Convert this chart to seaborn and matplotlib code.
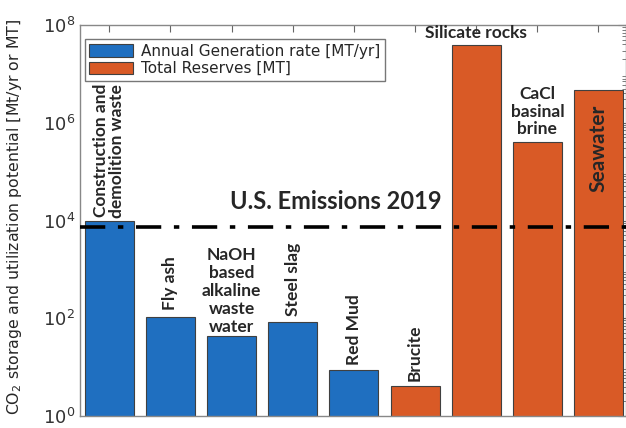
import numpy as np
import pandas as pd
import seaborn as sns
import matplotlib.pyplot as plt

# data
sources = ['Construction and demolition waste', 'Fly ash', 'NaOH based alkaline waste water',
           'Steel slag', 'Red Mud', 'Brucite', 'Silicate rocks', 'CaCl basinal brine', 'Seawater']
potential = [1.0e4, 105, 43, 85, 8.7, 4.1, 3.9e7, 4.1e5, 4.6e6]
kind = ['Annual Generation rate [MT/yr]'] * 5 + ['Total Reserves [MT]'] * 4
us_emissions_2019 = 7200

df = pd.DataFrame({'source': sources, 'value': potential, 'kind': kind})

sns.set_style('white')
plt.rcParams['font.family'] = ['DejaVu Sans']

fig = plt.figure(figsize=(6.26, 4.28), dpi=100)
ax = fig.add_axes([80 / 626, 1 - 416 / 428, 546 / 626, 391 / 428])

pal = {'Annual Generation rate [MT/yr]': '#1f6fc0', 'Total Reserves [MT]': '#d95a26'}
sns.barplot(data=df, x='source', y='value', hue='kind', dodge=False, palette=pal,
            hue_order=list(pal.keys()), width=0.8, edgecolor='#404040', linewidth=0.8,
            saturation=1, ax=ax)
ax.set_yscale('log')
ax.set_ylim(1, 1e8)
ax.set_xlim(-0.48, 8.45)
ax.set_yticks([1, 1e2, 1e4, 1e6, 1e8])
ax.set_yticklabels(['$10^0$', '$10^2$', '$10^4$', '$10^6$', '$10^8$'], fontsize=13, color='#333333')
ax.set_xticks(range(9))
ax.set_xticklabels([])
ax.set_xlabel('')
ax.set_ylabel('CO$_2$ storage and utilization potential [Mt/yr or MT]', fontsize=11.3)
ax.yaxis.set_label_coords(-0.103, 0.51)
ax.tick_params(axis='both', which='both', direction='in', top=True, right=True, color='#666666')
ax.tick_params(axis='y', which='major', length=6)
ax.tick_params(axis='y', which='minor', length=3)
ax.tick_params(axis='x', length=5)
for s in ax.spines.values():
    s.set_color('#888888')
    s.set_linewidth(1)

# US emissions line
ax.axhline(us_emissions_2019, color='black', linestyle=(0, (7, 3.5, 1.5, 3.5)), linewidth=2.6, zorder=5)
ax.text(3.7, 1.45e4, 'U.S. Emissions 2019', fontsize=17, fontweight='bold', family='Lato',
        ha='center', va='bottom')

# bar labels
lab = dict(fontsize=12.5, fontweight='bold', family='Lato')
ax.text(0, 1.15e4, 'Construction and\ndemolition waste', rotation=90, ha='center', va='bottom',
        linespacing=1.0, **lab)
ax.text(1, 150, 'Fly ash', rotation=90, ha='center', va='bottom', **lab)
ax.text(2, 45, 'NaOH\nbased\nalkaline\nwaste\nwater', ha='center', va='bottom', linespacing=1.15, **lab)
ax.text(3, 110, 'Steel slag', rotation=90, ha='center', va='bottom', **lab)
ax.text(4, 11, 'Red Mud', rotation=90, ha='center', va='bottom', **lab)
ax.text(5, 5.2, 'Brucite', rotation=90, ha='center', va='bottom', **lab)
ax.text(6, 4.7e7, 'Silicate rocks', ha='center', va='bottom', **lab)
ax.text(7, 5.0e5, 'CaCl\nbasinal\nbrine', ha='center', va='bottom', linespacing=1.15, **lab)
ax.text(8, 3.0e5, 'Seawater', rotation=90, ha='center', va='center', fontsize=15,
        fontweight='bold', family='Lato')

leg = ax.legend(loc='upper left', bbox_to_anchor=(0.0, 0.975), fontsize=11, frameon=True,
                fancybox=False, edgecolor='#555555', handlelength=2.9, handleheight=0.9,
                borderpad=0.3, labelspacing=0.15, handletextpad=0.5, borderaxespad=0.3)
leg.get_frame().set_linewidth(1)

fig.savefig('out.png', dpi=100)
